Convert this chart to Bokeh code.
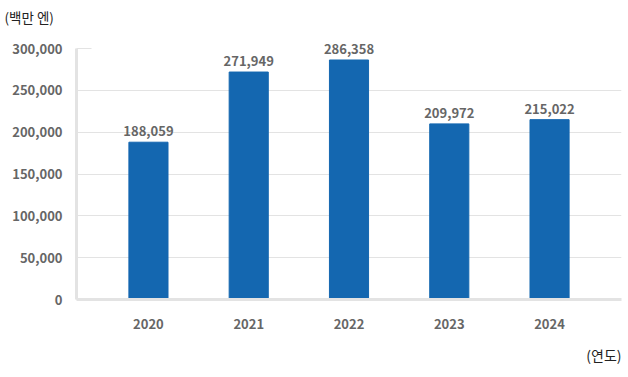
from bokeh.plotting import figure
from bokeh.models import ColumnDataSource, FactorRange, Range1d, FixedTicker, NumeralTickFormatter, LabelSet, Title
from bokeh.core.properties import value
from bokeh.embed import file_html
from bokeh.resources import INLINE

years = ["2020", "2021", "2022", "2023", "2024"]
values = [188059, 271949, 286358, 209972, 215022]
value_labels = ["188,059", "271,949", "286,358", "209,972", "215,022"]
y_ticks = [0, 50000, 100000, 150000, 200000, 250000, 300000]
y_unit = "(백만 엔)"
x_unit = "(연도)"

FONT = "Noto Sans CJK KR"
GRAY = "#666666"
LINE = "#e3e3e3"

src = ColumnDataSource(dict(x=years, top=values, lab=value_labels))

p = figure(width=624, height=376, output_backend="svg", toolbar_location=None,
           x_range=FactorRange(*years, range_padding=0.087),
           y_range=Range1d(0, 326400),
           min_border_left=76, min_border_right=3, min_border_top=26, min_border_bottom=40)
p.outline_line_color = None
p.background_fill_color = "white"
p.border_fill_color = "white"

p.vbar(x="x", top="top", width=0.39, source=src, color="#1467b0")

p.add_layout(LabelSet(x="x", y="top", text="lab", source=src, text_align="center",
                      text_baseline="bottom", y_offset=6, text_font=value(FONT),
                      text_font_size="13px", text_font_style="bold", text_color=GRAY))

p.yaxis.ticker = FixedTicker(ticks=y_ticks)
p.yaxis.bounds = (0, 300000)
p.yaxis.formatter = NumeralTickFormatter(format="0,0")
p.yaxis.major_tick_line_color = LINE
p.yaxis.major_tick_in = 15
p.yaxis.major_tick_out = 0
p.yaxis.minor_tick_line_color = None
p.yaxis.axis_line_color = LINE
p.yaxis.axis_line_width = 3
p.yaxis.major_label_standoff = 14
p.yaxis.major_label_text_font = FONT
p.yaxis.major_label_text_font_size = "13px"
p.yaxis.major_label_text_font_style = "bold"
p.yaxis.major_label_text_color = GRAY

p.xaxis.axis_line_color = LINE
p.xaxis.axis_line_width = 3
p.xaxis.major_tick_line_color = None
p.xaxis.minor_tick_line_color = None
p.xaxis.major_label_standoff = 13
p.xaxis.major_label_text_font = FONT
p.xaxis.major_label_text_font_size = "13px"
p.xaxis.major_label_text_font_style = "bold"
p.xaxis.major_label_text_color = GRAY

p.xgrid.grid_line_color = None
p.ygrid.ticker = FixedTicker(ticks=y_ticks[1:-1])
p.ygrid.grid_line_color = LINE
p.ygrid.grid_line_width = 1

p.add_layout(Title(text=y_unit, align="left", offset=-72, standoff=0,
                   text_font=FONT, text_font_size="13.5px", text_font_style="normal",
                   text_color="#222222"), "above")
p.add_layout(Title(text=x_unit, align="right", offset=0, standoff=23,
                   text_font=FONT, text_font_size="14px", text_font_style="normal",
                   text_line_height=1.0, vertical_align="bottom",
                   text_color="#222222"), "below")

open("out.html", "w").write(file_html(p, INLINE))
